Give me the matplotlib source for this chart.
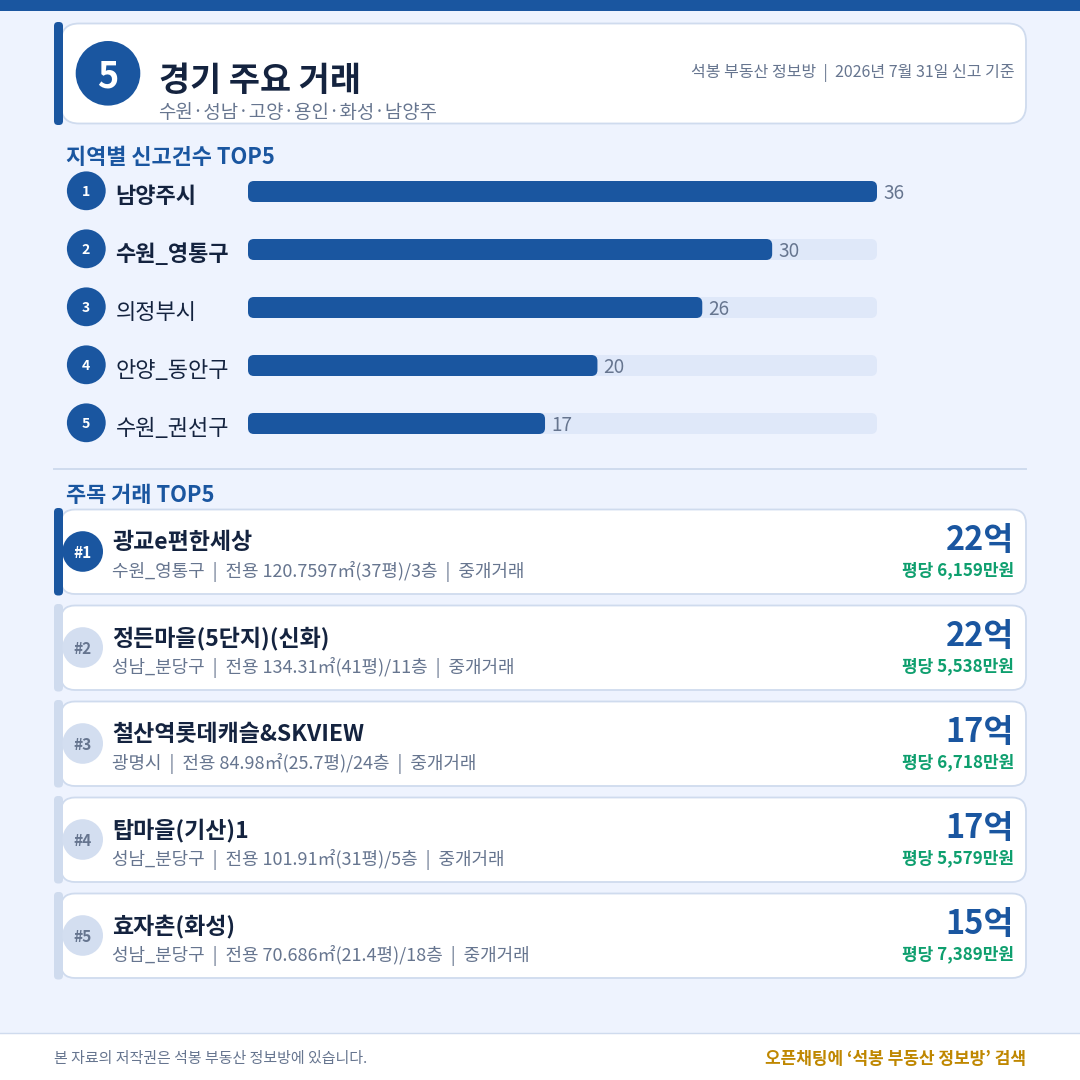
import matplotlib
matplotlib.use("Agg")
import matplotlib.pyplot as plt
from matplotlib.patches import FancyBboxPatch, Rectangle, Circle

plt.rcParams['font.family'] = ['Noto Sans CJK KR', 'DejaVu Sans']

regions = ['남양주시', '수원_영통구', '의정부시', '안양_동안구', '수원_권선구']
counts = [36, 30, 26, 20, 17]
deal_names = ['광교e편한세상', '정든마을(5단지)(신화)', '철산역롯데캐슬&SKVIEW', '탑마을(기산)1', '효자촌(화성)']
deal_details = ['수원_영통구  |  전용 120.7597㎡(37평)/3층  |  중개거래',
                '성남_분당구  |  전용 134.31㎡(41평)/11층  |  중개거래',
                '광명시  |  전용 84.98㎡(25.7평)/24층  |  중개거래',
                '성남_분당구  |  전용 101.91㎡(31평)/5층  |  중개거래',
                '성남_분당구  |  전용 70.686㎡(21.4평)/18층  |  중개거래']
deal_prices = ['22억', '22억', '17억', '17억', '15억']
deal_unit = ['평당 6,159만원', '평당 5,538만원', '평당 6,718만원', '평당 5,579만원', '평당 7,389만원']

BG = '#EEF3FE'; BLUE = '#1A56A0'; INK = '#14233F'; GREY = '#66758F'
LINE = '#CFDBEE'; TRACK = '#DFE8F9'; GREEN = '#0E9F6E'; GOLD = '#BF8700'

fig = plt.figure(figsize=(10.8, 10.8), dpi=100, facecolor=BG)
ax = fig.add_axes([0, 0, 1, 1]); ax.set_xlim(0, 1080); ax.set_ylim(1080, 0); ax.axis('off')

def rbox(x0, y0, x1, y1, r, fc, ec='none', lw=0, z=1):
    ax.add_patch(FancyBboxPatch((x0, y0), x1-x0, y1-y0, boxstyle=f'round,pad=0,rounding_size={r}',
                                fc=fc, ec=ec, lw=lw, zorder=z))

def px(s): return s*0.72

ax.add_patch(Rectangle((0, 0), 1080, 10.5, fc=BLUE, ec='none'))
# header
rbox(61, 23.5, 1026, 123.5, 18, 'white', LINE, 1.3)
rbox(54, 22, 63, 125, 4, BLUE, z=3)
ax.add_patch(Circle((108, 73.3), 32.3, fc=BLUE, ec='none', zorder=3))
ax.text(107.3, 87, '5', color='white', fontsize=px(36), fontweight='bold', ha='center', va='baseline', zorder=4)
ax.text(159, 90.5, '경기 주요 거래', color=INK, fontsize=px(33.8), fontweight='bold', va='baseline')
ax.text(158, 117.5, '수원·성남·고양·용인·화성·남양주', color=GREY, fontsize=px(18.9), va='baseline')
ax.text(1015, 77, '석봉 부동산 정보방  |  2026년 7월 31일 신고 기준', color=GREY, fontsize=px(16), ha='right', va='baseline')

# region section
ax.text(66, 164, '지역별 신고건수 TOP5', color=BLUE, fontsize=px(21.9), fontweight='bold', va='baseline')
row_top = 191.5; row_gap = 58
for i, name in enumerate(regions):
    yc = row_top + i*row_gap
    ax.add_patch(Circle((86.3, yc-0.7), 19.4, fc=BLUE, ec='none'))
    ax.text(86, yc+4.5, str(i+1), color='white', fontsize=px(14), fontweight='bold', ha='center', va='baseline')
    ax.text(115.5, yc+11.5, name, color=INK, fontsize=px(22), fontweight='bold' if i < 2 else 'normal', va='baseline')

# bars on their own data axes: x 0..36 spans px 248..877
bx = fig.add_axes([248/1080, 1-(row_top+4.5*row_gap)/1080, (877-248)/1080, 5*row_gap/1080])
bx.set_xlim(0, 36); bx.set_ylim(4.5, -0.5); bx.axis('off'); bx.patch.set_alpha(0)
ux = 629/36; uy = float(row_gap); r = 6/ux; asp = ux/uy; h = 21/uy
maxv = max(counts)
for i, v in enumerate(counts):
    bx.add_patch(FancyBboxPatch((0, i-h/2), maxv, h, boxstyle=f'round,pad=0,rounding_size={r}',
                                mutation_aspect=asp, fc=TRACK, ec='none', zorder=1))
    bx.add_patch(FancyBboxPatch((0, i-h/2), v, h, boxstyle=f'round,pad=0,rounding_size={r}',
                                mutation_aspect=asp, fc=BLUE, ec='none', zorder=2))
    bx.annotate(str(v), (v, i), xytext=(4.5, -1.6), textcoords='offset points', color=GREY,
                fontsize=px(19), va='center', ha='left', zorder=3, annotation_clip=False)

ax.plot([54, 1026], [469, 469], color=LINE, lw=1.4)

# deals section
ax.text(66, 502, '주목 거래 TOP5', color=BLUE, fontsize=px(21.9), fontweight='bold', va='baseline')
card_top = 509; card_gap = 96; card_h = 85
for i in range(5):
    y0 = card_top + i*card_gap; y1 = y0 + card_h; yc = (y0+y1)/2
    first = i == 0
    rbox(61, y0+0.5, 1026, y1, 14, 'white', LINE, 1.3)
    rbox(54, y0-1, 63, y1+1.5, 4, BLUE if first else LINE, z=3)
    ax.add_patch(Circle((82.7, yc), 20.3, fc=BLUE if first else '#D3DEF0', ec='none', zorder=4 if not first else 2))
    ax.text(82.5, yc+6, f'#{i+1}', color='white' if first else GREY, fontsize=px(15.5), fontweight='bold',
            ha='center', va='baseline', zorder=5)
    ax.text(112, y0+40, deal_names[i], color=INK, fontsize=px(23), fontweight='bold', va='baseline')
    ax.text(112, y0+68, deal_details[i], color=GREY, fontsize=px(18), va='baseline')
    ax.text(1014, y0+41, deal_prices[i], color=BLUE, fontsize=px(32.6), fontweight='bold', ha='right', va='baseline')
    ax.text(1014, y0+66, deal_unit[i], color=GREEN, fontsize=px(17), fontweight='bold', ha='right', va='baseline')

# footer
ax.add_patch(Rectangle((0, 1032.5), 1080, 47.5, fc='white', ec='none'))
ax.plot([0, 1080], [1032.5, 1032.5], color=LINE, lw=1.0)
ax.text(54, 1063, '본 자료의 저작권은 석봉 부동산 정보방에 있습니다.', color=GREY, fontsize=px(15), va='baseline')
ax.text(1026, 1064, '오픈채팅에 ‘석봉 부동산 정보방’ 검색', color=GOLD, fontsize=px(17), fontweight='bold', ha='right', va='baseline')

fig.savefig('out.png', dpi=100, facecolor=BG)
